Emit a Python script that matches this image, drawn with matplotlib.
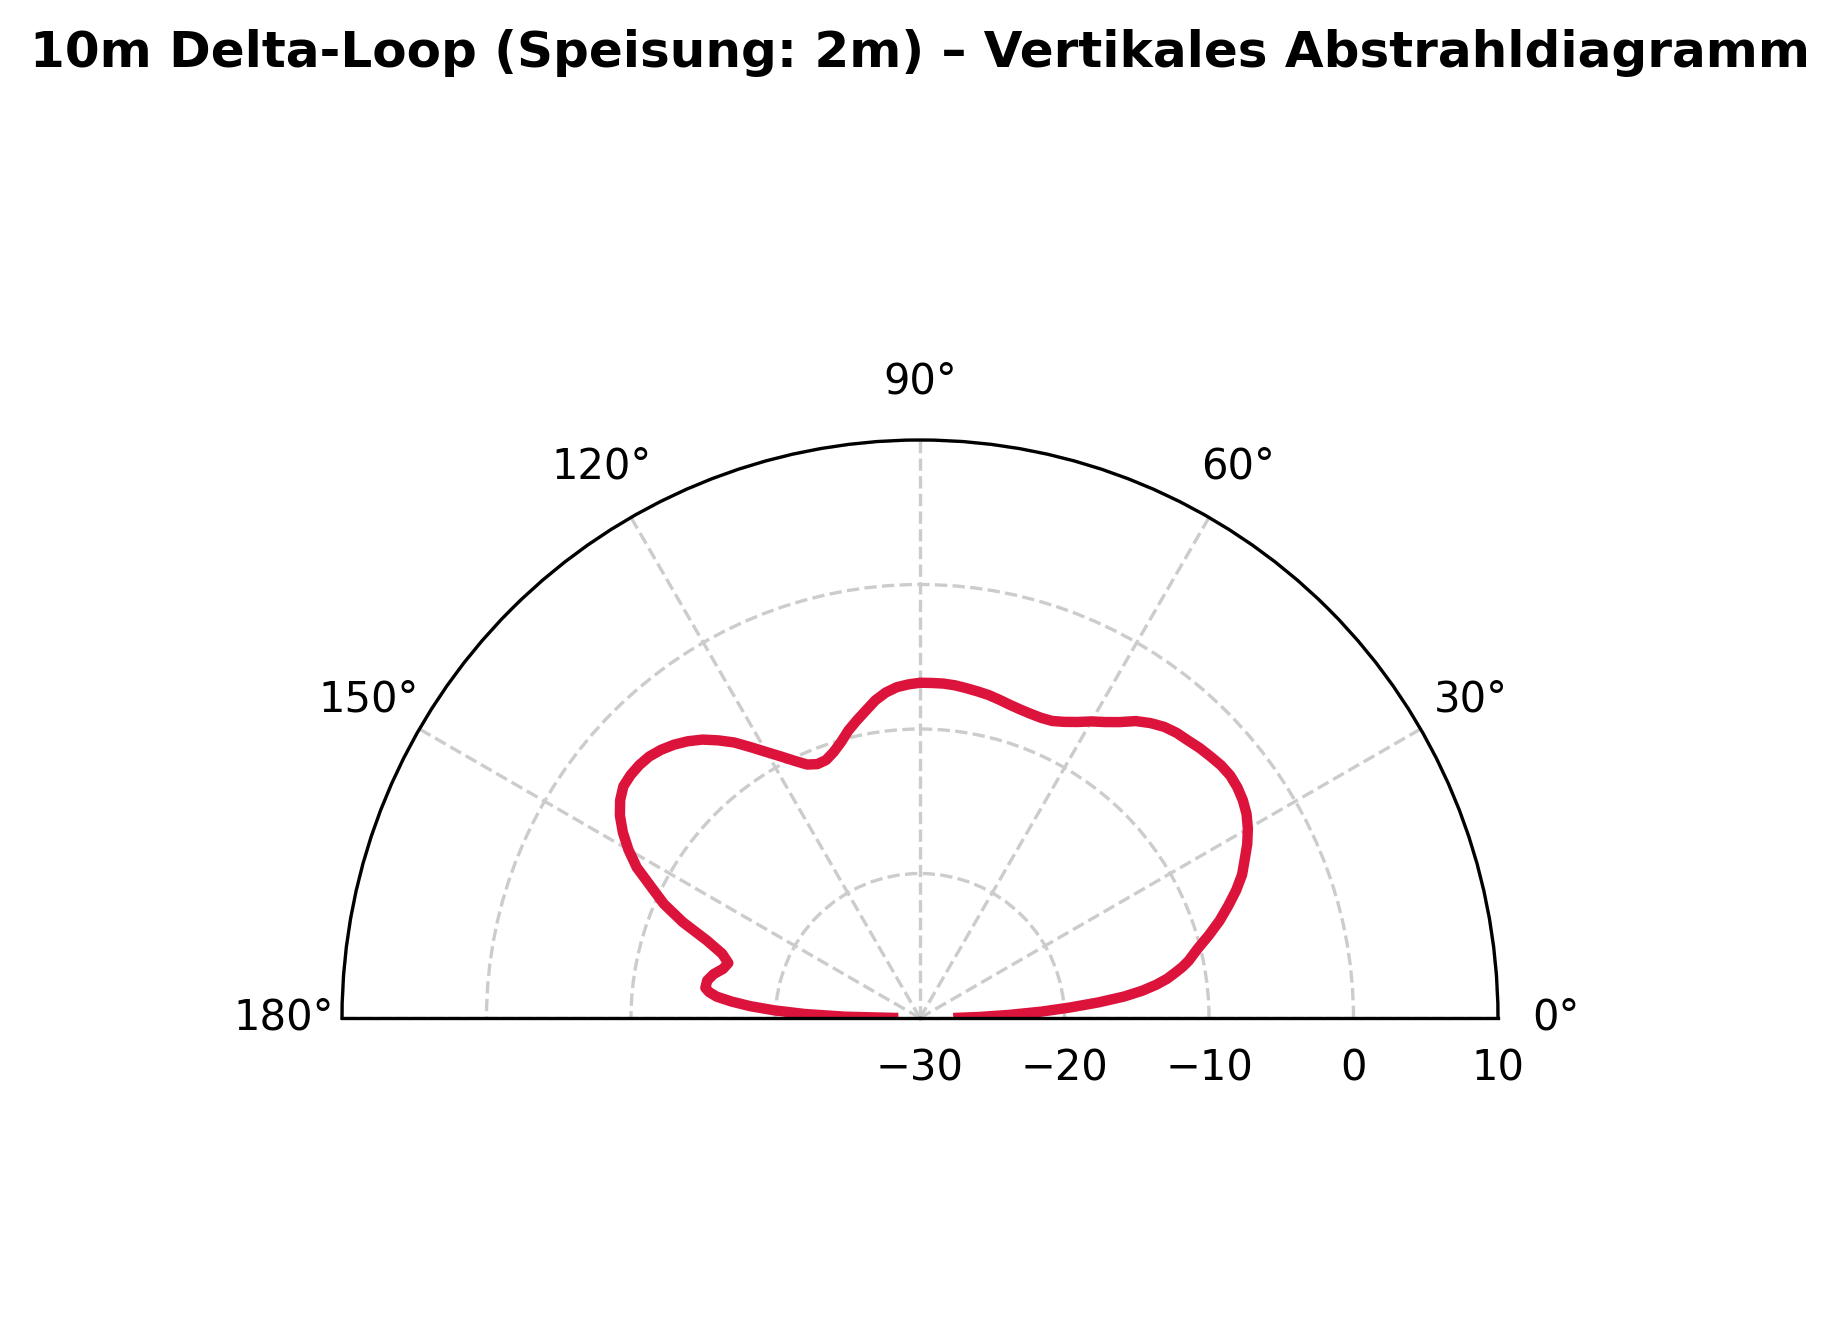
import numpy as np
import matplotlib
matplotlib.use("Agg")
import matplotlib.pyplot as plt

# elevation angle (deg) and gain (dB)
angle_deg = [0, 1, 2, 3, 4, 5, 6, 7, 8, 9, 10, 11, 12, 14, 16, 18, 20, 22, 24,
             26, 28, 30, 32, 34, 36, 38, 40, 42, 44, 46, 48, 50, 52, 54, 56, 58,
             60, 62, 64, 66, 68, 70, 72, 74, 76, 78, 80, 82, 84, 86, 88, 90, 92,
             94, 96, 98, 100, 102, 104, 106, 108, 110, 112, 114, 116, 118, 120,
             122, 124, 126, 128, 130, 132, 134, 136, 138, 140, 142, 144, 146,
             148, 150, 152, 154, 156, 158, 160, 162, 164, 166, 168, 170, 172,
             173, 174, 175, 176, 177, 178, 179, 180]
gain_db = [-27.7, -25.9, -23.8, -21.6, -19.6, -17.6, -15.8, -14.5, -13.5, -12.7,
           -12.1, -11.5, -11.0, -10.2, -9.2, -8.2, -7.3, -6.4, -5.6, -5.0,
           -4.35, -3.8, -3.35, -3.05, -2.85, -2.75, -2.8, -2.95, -3.1, -3.3,
           -3.45, -3.7, -4.1, -4.6, -5.3, -5.85, -6.3, -6.8, -7.2, -7.5, -7.6,
           -7.6, -7.55, -7.45, -7.3, -7.15, -7.05, -6.95, -6.85, -6.8, -6.8,
           -6.8, -6.9, -7.05, -7.35, -7.8, -8.4, -8.95, -9.5, -10.15, -10.65,
           -11.0, -11.05, -10.8, -10.2, -9.5, -8.75, -7.9, -7.0, -6.25, -5.55,
           -5.0, -4.55, -4.2, -3.95, -3.85, -3.85, -3.95, -4.35, -4.95, -5.75,
           -6.7, -7.8, -9.3, -10.6, -12.3, -14.3, -15.6, -16.2, -15.95, -15.4,
           -15.05, -15.0, -15.3, -15.85, -16.9, -18.2, -19.9, -22.0, -24.8,
           -28.5]

r_ticks = [-30, -20, -10, 0, 10]
theta_ticks = [0, 30, 60, 90, 120, 150, 180]

W, H = 1839, 1336
fig = plt.figure(figsize=(W / 300, H / 300), dpi=300)
# square box; the half disk sits centred in it (centre near 920,1017 px, radius 578 px)
side = 1156
ax = fig.add_axes([342 / W, (H - 1307) / H, side / W, side / H], projection="polar")

ax.plot(np.deg2rad(angle_deg), gain_db, color="crimson", lw=2.5,
        solid_joinstyle="round", solid_capstyle="butt")

ax.set_thetamin(0)
ax.set_thetamax(180)
ax.set_ylim(-30, 10)
ax.set_rticks(r_ticks)
ax.set_thetagrids(theta_ticks, [f"{t}°" for t in theta_ticks])
ax.grid(True, color="0.8", linestyle="--", lw=0.8)

fig.text(920 / W, 1 - 67 / H, "10m Delta-Loop (Speisung: 2m) – Vertikales Abstrahldiagramm",
         ha="center", va="baseline", fontsize=12, fontweight="bold")

fig.savefig("out.png", dpi=300)
